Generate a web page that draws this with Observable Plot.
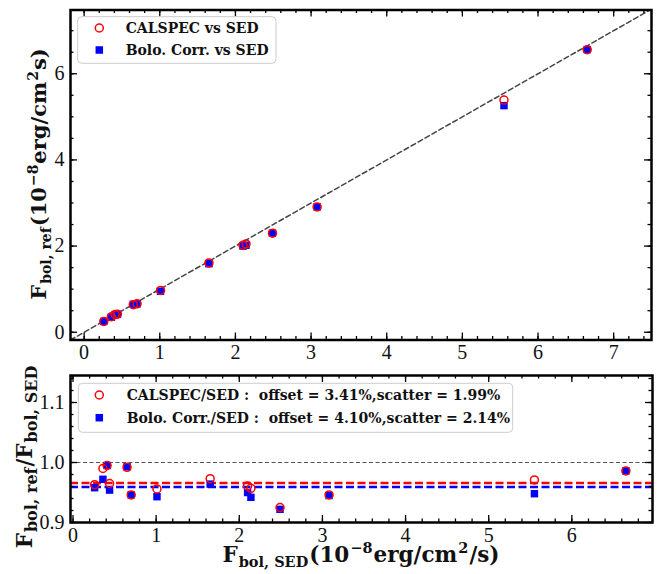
<!DOCTYPE html>
<html><head><meta charset="utf-8">
<script src="https://cdn.jsdelivr.net/npm/d3@7"></script>
<script src="https://cdn.jsdelivr.net/npm/@observablehq/plot@0.6"></script>
<style>
body{margin:0;background:#fff;}
#wrap{position:relative;width:666px;height:574px;overflow:hidden;background:#fff;}
#wrap svg{position:absolute;left:0;}
</style></head><body><div id="wrap"></div>
<script>
// ---- data ----
const sedFlux      = [0.26, 0.36, 0.41, 0.44, 0.65, 0.70, 1.01, 1.65, 2.10, 2.14, 2.49, 3.08, 5.55, 6.65];
const calspecFlux  = [0.25, 0.36, 0.41, 0.42, 0.64, 0.66, 0.97, 1.61, 2.02, 2.05, 2.30, 2.91, 5.39, 6.56];
const boloFlux     = [0.25, 0.35, 0.41, 0.42, 0.65, 0.66, 0.95, 1.59, 2.00, 2.02, 2.30, 2.91, 5.26, 6.56];
const calspecRatio = [0.963, 0.990, 0.995, 0.965, 0.992, 0.946, 0.956, 0.973, 0.961, 0.957, 0.925, 0.946, 0.971, 0.986];
const boloRatio    = [0.958, 0.972, 0.995, 0.954, 0.993, 0.946, 0.943, 0.964, 0.950, 0.942, 0.922, 0.945, 0.948, 0.986];
const offsetsPct   = {calspec: 3.41, bolo: 4.10};
const scatterPct   = {calspec: 1.99, bolo: 2.14};
const seriesNames  = ["CALSPEC vs SED", "Bolo. Corr. vs SED"];
const ratioNames   = ["CALSPEC/SED", "Bolo. Corr./SED"];

const topXDomain = [-0.18, 7.5], topYDomain = [-0.18, 7.48];
const topXTicks = [0, 1, 2, 3, 4, 5, 6, 7];
const topYTicks = [0, 2, 4, 6];
const topXMinor = d3.range(0, 7.45, 0.2);
const topYMinor = d3.range(0, 7.45, 0.5);

const botXDomain = [-0.03, 6.97], botYDomain = [0.9, 1.145];
const botXTicks = [0, 1, 2, 3, 4, 5, 6];
const botYTicks = [0.9, 1.0, 1.1];
const botXMinor = d3.range(0, 6.95, 0.2);
const botYMinor = d3.range(0.9, 1.145, 0.02);

const SERIF = "'Liberation Serif', 'DejaVu Serif', serif";
const BOLDSERIF = "'DejaVu Serif', 'Liberation Serif', serif";
const pts = sedFlux.map((x, i) => ({x, cal: calspecFlux[i], bolo: boloFlux[i], rc: calspecRatio[i], rb: boloRatio[i]}));

function frameTicks(xs, ys, len, W, H) {
  const o = {stroke: "black", strokeWidth: 1.3};
  return [
    Plot.ruleX(xs, {...o, insetTop: H - len}),
    Plot.ruleX(xs, {...o, insetBottom: H - len}),
    Plot.ruleY(ys, {...o, insetRight: W - len}),
    Plot.ruleY(ys, {...o, insetLeft: W - len})
  ];
}

// ---- top panel ----
const TW = 581, TH = 330;
const topPlot = Plot.plot({
  width: 666, height: 370,
  marginLeft: 70, marginRight: 15, marginTop: 9.5, marginBottom: 30.5,
  style: {fontFamily: SERIF, fontSize: "20px", color: "#111", background: "transparent"},
  x: {domain: topXDomain}, y: {domain: topYDomain},
  marks: [
    Plot.line([[topXDomain[0], topXDomain[0]], [topXDomain[1], topXDomain[1]]], {stroke: "#444", strokeWidth: 1.5, strokeDasharray: "5,3", clip: true}),
    Plot.dot(pts, {x: "x", y: "bolo", symbol: "square", fill: "blue", r: 4.2}),
    Plot.dot(pts, {x: "x", y: "cal", stroke: "red", fill: "none", r: 4, strokeWidth: 1.5}),
    ...frameTicks(topXMinor, topYMinor, 3.5, TW, TH),
    ...frameTicks(topXTicks, topYTicks, 7, TW, TH),
    Plot.axisX(topXTicks, {tickSize: 0, tickPadding: 5, label: null, fontSize: 20}),
    Plot.axisY(topYTicks, {tickSize: 0, tickPadding: 6, label: null, fontSize: 20}),
    Plot.frame({stroke: "black", strokeWidth: 2.5})
  ]
});
topPlot.style.top = "0px";

// ---- bottom panel (svg starts at y=350, transparent so it may overlap the top one) ----
const BW = 582, BH = 147, OFF = 20;
const botPlot = Plot.plot({
  width: 666, height: 224,
  marginLeft: 70, marginRight: 14, marginTop: 5 + OFF, marginBottom: 52,
  style: {fontFamily: SERIF, fontSize: "20px", color: "#111", background: "transparent"},
  x: {domain: botXDomain}, y: {domain: botYDomain},
  marks: [
    Plot.ruleY([1], {stroke: "#555", strokeWidth: 1, strokeDasharray: "4,2.5"}),
    Plot.ruleY([1 - offsetsPct.calspec / 100], {stroke: "red", strokeWidth: 2.5, strokeDasharray: "8,3.5"}),
    Plot.ruleY([1 - offsetsPct.bolo / 100], {stroke: "blue", strokeWidth: 2.5, strokeDasharray: "8,3.5"}),
    Plot.dot(pts, {x: "x", y: "rb", symbol: "square", fill: "blue", r: 4.2}),
    Plot.dot(pts, {x: "x", y: "rc", stroke: "red", fill: "none", r: 4, strokeWidth: 1.5}),
    ...frameTicks(botXMinor, botYMinor, 3.5, BW, BH),
    ...frameTicks(botXTicks, botYTicks, 7, BW, BH),
    Plot.axisX(botXTicks, {tickSize: 0, tickPadding: 5, label: null, fontSize: 20}),
    Plot.axisY(botYTicks, {tickSize: 0, tickPadding: 6, label: null, fontSize: 20, tickFormat: d3.format(".1f")}),
    Plot.frame({stroke: "black", strokeWidth: 2.5})
  ]
});
botPlot.style.top = (370 - OFF) + "px";

const wrap = document.getElementById("wrap");
wrap.appendChild(topPlot);
wrap.appendChild(botPlot);

// ---- math-style labels ----
function mathText(svg, x, y, rotate, parts) {
  const t = d3.select(svg).append("text")
    .attr("transform", `translate(${x},${y})` + (rotate ? ` rotate(${rotate})` : ""))
    .attr("text-anchor", "middle").attr("font-family", BOLDSERIF)
    .attr("font-weight", "bold").attr("fill", "#111");
  let shift = 0;
  parts.forEach(([s, size, off], i) => {
    t.append("tspan").attr("font-size", size).attr("dy", off - shift).attr("dx", i ? 1 : 0).text(s);
    shift = off;
  });
  return t;
}
mathText(topPlot, 46, 174, -90, [["F", 21, 0], ["bol, ref", 14, 5], ["(10", 21, 0], ["\u22128", 14, -8.5], ["erg/cm", 21, 0], ["2", 14, -8.5], ["s)", 21, 0]]);
mathText(botPlot, 32, 87 + OFF, -90, [["F", 21.5, 0], ["bol, ref", 16, 5], ["/F", 21.5, 0], ["bol, SED", 16, 5]]);
mathText(botPlot, 361, 191.5 + OFF, 0, [["F", 21.5, 0], ["bol, SED", 14.5, 5], ["(10", 21.5, 0], ["\u22128", 14.5, -8.5], ["erg/cm", 21.5, 0], ["2", 14.5, -8.5], ["/s)", 21.5, 0]]);

// ---- legends ----
function legend(svg, x0, y0, w, h, rows, rowYs, markX, textX, fs) {
  const g = d3.select(svg).append("g");
  g.append("rect").attr("x", x0).attr("y", y0).attr("width", w).attr("height", h).attr("rx", 4)
    .attr("fill", "white").attr("fill-opacity", 0.8).attr("stroke", "#cccccc").attr("stroke-width", 1);
  rows.forEach((label, i) => {
    const cy = rowYs[i];
    if (i === 0) g.append("circle").attr("cx", markX).attr("cy", cy).attr("r", 4).attr("fill", "none").attr("stroke", "red").attr("stroke-width", 1.5);
    else g.append("rect").attr("x", markX - 3.75).attr("y", cy - 3.75).attr("width", 7.5).attr("height", 7.5).attr("fill", "blue");
    g.append("text").attr("x", textX).attr("y", cy + 5.2).attr("text-anchor", "start").attr("font-family", BOLDSERIF).attr("font-weight", "bold")
      .attr("font-size", fs).attr("fill", "#111").attr("xml:space", "preserve").style("white-space", "pre").text(label);
  });
}
legend(topPlot, 77.7, 16.7, 198.3, 46.6, seriesNames, [28, 50], 99.3, 125.7, 14);
legend(botPlot, 78.3, 13.3 + OFF, 434.4, 49, [
  `${ratioNames[0]} :  offset = ${offsetsPct.calspec.toFixed(2)}%,scatter = ${scatterPct.calspec.toFixed(2)}%`,
  `${ratioNames[1]} :  offset = ${offsetsPct.bolo.toFixed(2)}%,scatter = ${scatterPct.bolo.toFixed(2)}%`
], [25 + OFF, 47.7 + OFF], 99.3, 126.7, 14);
</script></body></html>
